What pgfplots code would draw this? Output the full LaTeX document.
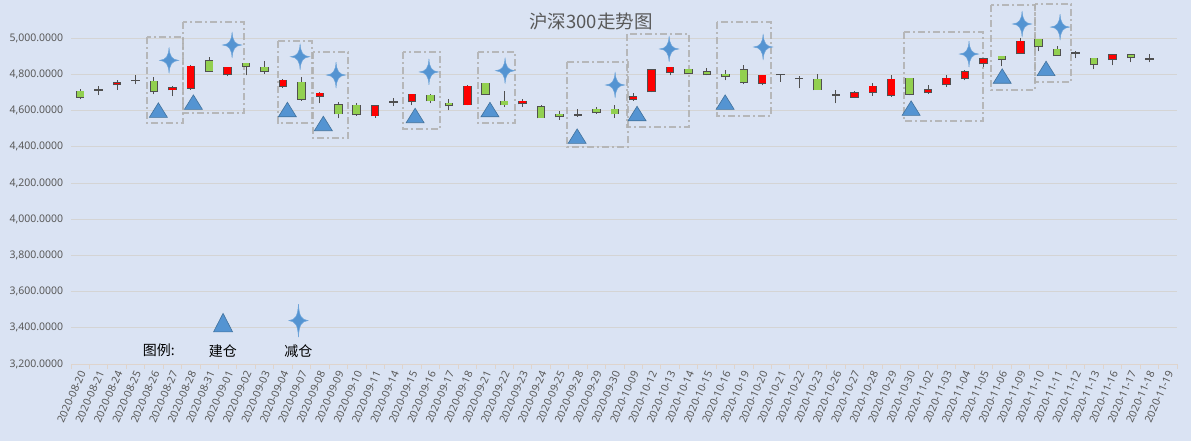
\documentclass[border=0pt]{standalone}
\usepackage{fontspec}
\setmainfont{Noto Sans}
\newfontfamily\cjk{Noto Sans CJK SC}
\usepackage{pgfplots}
\usepackage{pgfplotstable}
\pgfplotsset{compat=1.18}
\definecolor{bgc}{RGB}{218,227,243}
\definecolor{gridc}{RGB}{212,212,212}
\definecolor{axisc}{RGB}{222,212,205}
\definecolor{labc}{RGB}{89,89,89}
\definecolor{wick}{RGB}{80,80,80}
\definecolor{upc}{RGB}{255,0,0}
\definecolor{dnc}{RGB}{146,208,80}
\definecolor{mk}{RGB}{84,148,210}
\definecolor{mkd}{RGB}{65,113,156}
\definecolor{boxc}{RGB}{176,176,176}
\tikzset{boxst/.style={draw=boxc, opacity=0.85, line width=2.2bp, dash pattern=on 7bp off 3bp on 2bp off 3bp}}

\pgfdeclareplotmark{tri}{%
 \pgfpathmoveto{\pgfqpoint{0bp}{9.67bp}}%
 \pgfpathlineto{\pgfqpoint{9bp}{-4.83bp}}%
 \pgfpathlineto{\pgfqpoint{-9bp}{-4.83bp}}%
 \pgfpathclose\pgfusepathqfillstroke}
\pgfdeclareplotmark{bigtri}{%
 \pgfpathmoveto{\pgfqpoint{0bp}{12.3bp}}%
 \pgfpathlineto{\pgfqpoint{9.5bp}{-6.17bp}}%
 \pgfpathlineto{\pgfqpoint{-9.5bp}{-6.17bp}}%
 \pgfpathclose\pgfusepathqfillstroke}
\pgfdeclareplotmark{spark}{%
 \pgfpathmoveto{\pgfqpoint{0bp}{13bp}}%
 \pgfpathcurveto{\pgfqpoint{0.5bp}{4bp}}{\pgfqpoint{3bp}{0.6bp}}{\pgfqpoint{9.5bp}{0bp}}%
 \pgfpathcurveto{\pgfqpoint{3bp}{-0.6bp}}{\pgfqpoint{0.5bp}{-4bp}}{\pgfqpoint{0bp}{-13bp}}%
 \pgfpathcurveto{\pgfqpoint{-0.5bp}{-4bp}}{\pgfqpoint{-3bp}{-0.6bp}}{\pgfqpoint{-9.5bp}{0bp}}%
 \pgfpathcurveto{\pgfqpoint{-3bp}{0.6bp}}{\pgfqpoint{-0.5bp}{4bp}}{\pgfqpoint{0bp}{13bp}}%
 \pgfpathclose\pgfusepathqfillstroke}
\pgfdeclareplotmark{bigspark}{%
 \pgfpathmoveto{\pgfqpoint{0bp}{16.5bp}}%
 \pgfpathcurveto{\pgfqpoint{0.6bp}{4.5bp}}{\pgfqpoint{3bp}{0.7bp}}{\pgfqpoint{9.5bp}{0bp}}%
 \pgfpathcurveto{\pgfqpoint{3bp}{-0.7bp}}{\pgfqpoint{0.6bp}{-4.5bp}}{\pgfqpoint{0bp}{-16.5bp}}%
 \pgfpathcurveto{\pgfqpoint{-0.6bp}{-4.5bp}}{\pgfqpoint{-3bp}{-0.7bp}}{\pgfqpoint{-9.5bp}{0bp}}%
 \pgfpathcurveto{\pgfqpoint{-3bp}{0.7bp}}{\pgfqpoint{-0.6bp}{4.5bp}}{\pgfqpoint{0bp}{16.5bp}}%
 \pgfpathclose\pgfusepathqfillstroke}

% rising days (red)
\pgfplotstableread{
i o h l c
2 4745 4769 4717 4754
5 4717 4736 4680 4727
6 4727 4852 4717 4845
8 4800 4841 4789 4839
11 4734 4775 4728 4767
13 4682 4704 4640 4695
16 4573 4629 4562 4625
18 4651 4692 4629 4690
21 4634 4740 4629 4734
24 4640 4667 4623 4651
30 4662 4695 4655 4677
31 4706 4824 4701 4823
32 4812 4840 4795 4839
37 4751 4796 4740 4795
42 4677 4708 4669 4699
43 4701 4751 4682 4734
44 4684 4799 4677 4773
46 4701 4740 4693 4717
47 4745 4795 4732 4778
48 4778 4823 4767 4812
49 4861 4885 4839 4884
51 4917 5000 4916 4983
56 4884 4907 4850 4906
}\tabup
% falling days (green)
\pgfplotstableread{
i o h l c
0 4706 4721 4662 4677
4 4762 4784 4690 4706
7 4873 4898 4815 4817
9 4861 4863 4795 4845
10 4839 4876 4802 4817
12 4756 4788 4656 4666
14 4634 4647 4557 4584
15 4629 4644 4573 4579
19 4684 4692 4640 4656
20 4640 4662 4601 4629
22 4751 4752 4689 4690
23 4651 4708 4623 4634
25 4623 4629 4560 4562
26 4579 4596 4551 4568
28 4607 4618 4584 4590
29 4607 4634 4560 4584
33 4828 4829 4805 4806
34 4812 4834 4795 4800
35 4800 4823 4767 4789
36 4823 4850 4745 4756
40 4773 4802 4716 4717
45 4778 4779 4684 4693
50 4900 4901 4845 4884
52 4994 4995 4928 4956
53 4939 4956 4905 4906
55 4889 4890 4828 4856
57 4906 4911 4867 4895
}\tabdn
% doji days
\pgfplotstableread{
i o h l c
1 4716 4736 4686 4716
3 4767 4799 4745 4767
17 4649 4669 4625 4649
27 4577 4612 4566 4577
38 4799 4801 4760 4799
39 4777 4791 4723 4777
41 4688 4714 4640 4688
54 4917 4932 4889 4917
58 4887 4911 4867 4887
}\tabdj

\pgfplotsset{
  wickplot/.style={draw=none, mark=none, forget plot,
    error bars/.cd, y dir=plus, y explicit, error mark=none,
    error bar style={draw=wick, line width=1bp}},
  rimplot/.style={draw=none, mark=none, forget plot,
    error bars/.cd, y dir=plus, y explicit, error mark=none,
    error bar style={draw=wick, line width=8.5bp}},
  bodyplot/.style={draw=none, mark=none, forget plot,
    error bars/.cd, y dir=plus, y explicit, error mark=none,
    error bar style={draw=#1, line width=6.7bp}},
}

\begin{document}
\begin{tikzpicture}
\path[use as bounding box] (0,0) rectangle (1191bp,441bp);
\fill[bgc] (0,0) rectangle (1191bp,441bp);
\begin{axis}[
  at={(71bp,77bp)}, anchor=south west,
  scale only axis, width=1106bp, height=325.7bp,
  xmin=-0.5, xmax=59.5, ymin=3200, ymax=5000,
  clip=false,
  axis x line*=bottom, axis y line*=left,
  axis line style={-},
  x axis line style={draw=axisc, line width=0.8bp},
  y axis line style={draw=none},
  ytick={3200,3400,...,5000},
  yticklabels={{3,200.0000},{3,400.0000},{3,600.0000},{3,800.0000},{4,000.0000},{4,200.0000},{4,400.0000},{4,600.0000},{4,800.0000},{5,000.0000}},
  y tick label style={font=\fontsize{10.5bp}{12bp}\selectfont, text=labc},
  major y tick style={draw=none},
  ymajorgrids, grid style={draw=gridc, line width=0.8bp},
  xtick={0,...,59},
  xticklabels={2020-08-20,2020-08-21,2020-08-24,2020-08-25,2020-08-26,2020-08-27,2020-08-28,2020-08-31,2020-09-01,2020-09-02,2020-09-03,2020-09-04,2020-09-07,2020-09-08,2020-09-09,2020-09-10,2020-09-11,2020-09-14,2020-09-15,2020-09-16,2020-09-17,2020-09-18,2020-09-21,2020-09-22,2020-09-23,2020-09-24,2020-09-25,2020-09-28,2020-09-29,2020-09-30,2020-10-09,2020-10-12,2020-10-13,2020-10-14,2020-10-15,2020-10-16,2020-10-19,2020-10-20,2020-10-21,2020-10-22,2020-10-23,2020-10-26,2020-10-27,2020-10-28,2020-10-29,2020-10-30,2020-11-02,2020-11-03,2020-11-04,2020-11-05,2020-11-06,2020-11-09,2020-11-10,2020-11-11,2020-11-12,2020-11-13,2020-11-16,2020-11-17,2020-11-18,2020-11-19},
  x tick label style={rotate=66, anchor=east, xshift=1.5bp, yshift=-3.5bp, font=\fontsize{10.6bp}{12bp}\selectfont, text=labc},
  major x tick style={draw=none},
  minor xtick={-0.5,0.5,...,59.5},
  minor tick length=5bp, tick align=outside,
  minor x tick style={draw=axisc, line width=0.8bp},
]
% dashed frames
\draw[boxst] (axis cs:3.62,5007) rectangle (axis cs:5.58,4532);
\draw[boxst] (axis cs:5.58,5090) rectangle (axis cs:8.89,4587);
\draw[boxst] (axis cs:10.73,4985) rectangle (axis cs:12.58,4532);
\draw[boxst] (axis cs:12.63,4924) rectangle (axis cs:14.53,4449);
\draw[boxst] (axis cs:17.51,4924) rectangle (axis cs:19.52,4499);
\draw[boxst] (axis cs:21.58,4924) rectangle (axis cs:23.59,4532);
\draw[boxst] (axis cs:26.41,4869) rectangle (axis cs:29.72,4399);
\draw[boxst] (axis cs:29.67,5024) rectangle (axis cs:33.03,4510);
\draw[boxst] (axis cs:34.55,5090) rectangle (axis cs:37.48,4571);
\draw[boxst] (axis cs:44.7,5035) rectangle (axis cs:48.98,4543);
\draw[boxst] (axis cs:49.42,5184) rectangle (axis cs:51.81,4714);
\draw[boxst] (axis cs:51.81,5189) rectangle (axis cs:53.76,4758);

% candles: wicks, outlines, bodies
\addplot[wickplot] table[x=i, y=l, y error plus expr=\thisrow{h}-\thisrow{l}] {\tabup};
\addplot[wickplot] table[x=i, y=l, y error plus expr=\thisrow{h}-\thisrow{l}] {\tabdn};
\addplot[wickplot] table[x=i, y=l, y error plus expr=\thisrow{h}-\thisrow{l}] {\tabdj};
\addplot[rimplot] table[x=i, y expr=\thisrow{o}-4.6, y error plus expr=\thisrow{c}-\thisrow{o}+9.2] {\tabup};
\addplot[rimplot] table[x=i, y expr=\thisrow{c}-4.6, y error plus expr=\thisrow{o}-\thisrow{c}+9.2] {\tabdn};
\addplot[rimplot] table[x=i, y expr=\thisrow{c}-4.6, y error plus expr=9.2] {\tabdj};
\addplot[bodyplot=upc] table[x=i, y=o, y error plus expr=\thisrow{c}-\thisrow{o}] {\tabup};
\addplot[bodyplot=dnc] table[x=i, y=c, y error plus expr=\thisrow{o}-\thisrow{c}] {\tabdn};

% 建仓 markers
\addplot[only marks, mark=tri, mark options={fill=mk, draw=mkd, line width=0.6bp}]
 coordinates {(4.24,4590) (6.14,4634) (11.24,4593) (13.19,4516) (18.17,4560) (22.23,4593) (26.96,4446) (30.21,4571) (34.99,4634) (45.08,4601) (50.02,4778) (52.4,4820)};
% 减仓 markers
\addplot[only marks, mark=spark, mark options={fill=mk, draw=mk!85!white, line width=0.5bp}]
 coordinates {(4.82,4878) (8.24,4963) (11.93,4898) (13.88,4797) (18.92,4814) (23.05,4821) (29.02,4742) (31.95,4941) (37.05,4952) (48.22,4913) (51.1,5079) (53.16,5062)};
% legend markers
\addplot[only marks, mark=bigtri, mark options={fill=mk, draw=mkd, line width=0.6bp}] coordinates {(7.75,3412)};
\addplot[only marks, mark=bigspark, mark options={fill=mk, draw=mk!85!white, line width=0.5bp}] coordinates {(11.84,3440)};
\end{axis}
\node[text=labc, font=\cjk\fontsize{18.5bp}{22bp}\selectfont] at (591bp,419.3bp) {沪深300走势图};
\node[text=black, font=\cjk\fontsize{14bp}{17bp}\selectfont] at (158.8bp,91bp) {图例:};
\node[text=black, font=\cjk\fontsize{14bp}{17bp}\selectfont] at (222.8bp,89.5bp) {建仓};
\node[text=black, font=\cjk\fontsize{14bp}{17bp}\selectfont] at (298.3bp,89.5bp) {减仓};
\end{tikzpicture}
\end{document}
